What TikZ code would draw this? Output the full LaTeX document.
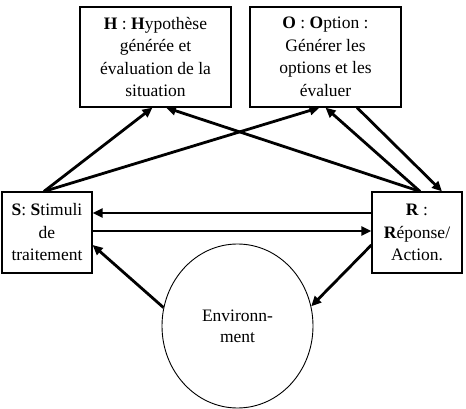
\documentclass[tikz,border=0pt]{standalone}
\usepackage{fontspec}
\setmainfont{Liberation Serif}
\usetikzlibrary{arrows.meta,shapes.geometric}

\begin{document}
\begin{tikzpicture}[x=1pt,y=-1pt,
  box/.style={draw=black,line width=1.2pt,minimum width=151pt,
    minimum height=100pt,align=center,inner sep=2pt,
    font=\fontsize{17.5}{22.5}\selectfont},
  sidebox/.style={box,minimum width=90pt,minimum height=81pt},
  world/.style={ellipse,draw=black,line width=0.9pt,minimum width=151pt,
    minimum height=164pt,inner sep=0pt,align=center,
    font=\fontsize{17.5}{21}\selectfont},
  flow/.style={-{Triangle[length=10pt,width=9pt]},line width=2.8pt}
]
\useasboundingbox (0,0) rectangle (466,409);
\node[box] (hyp) at (155.5,57)
  {\textbf{H} : \textbf{H}ypothèse\\générée et\\évaluation de la\\situation};
\node[box] (opt) at (325.5,57)
  {\textbf{O} : \textbf{O}ption :\\Générer les\\options et les\\évaluer};
\node[sidebox] (stim) at (47,232.5)
  {\textbf{S}: \textbf{S}timuli\\de\\traitement};
\node[sidebox] (rep) at (417,232.5)
  {\textbf{R} :\\\textbf{R}éponse/\\Action.};
\node[world] (env) at (237.5,326) {Environn-\\ment};

% vers le haut
\draw[flow] ([xshift=-3pt]stim.north) -- ([xshift=-3pt]hyp.south);
\draw[flow] ([xshift=-3pt]stim.north) -- ([xshift=-6pt]opt.south);
\draw[flow] ([xshift=3pt]rep.north) -- ([xshift=10.5pt]hyp.south);
\draw[flow] ([xshift=3pt]rep.north) -- (opt.south);
\draw[flow] ([xshift=31.5pt]opt.south) -- ([xshift=25pt]rep.north);
% entre S et R
\draw[flow] ([yshift=19.5pt]rep.west) -- ([yshift=19.5pt]stim.east);
\draw[flow] ([yshift=1.5pt]stim.east) -- ([yshift=1.5pt]rep.west);
% environnement
\draw[flow] (env.166) -- ([yshift=-12.5pt]stim.east);
\draw[flow] ([yshift=-12.5pt]rep.west) -- (env.15);
\end{tikzpicture}
\end{document}
